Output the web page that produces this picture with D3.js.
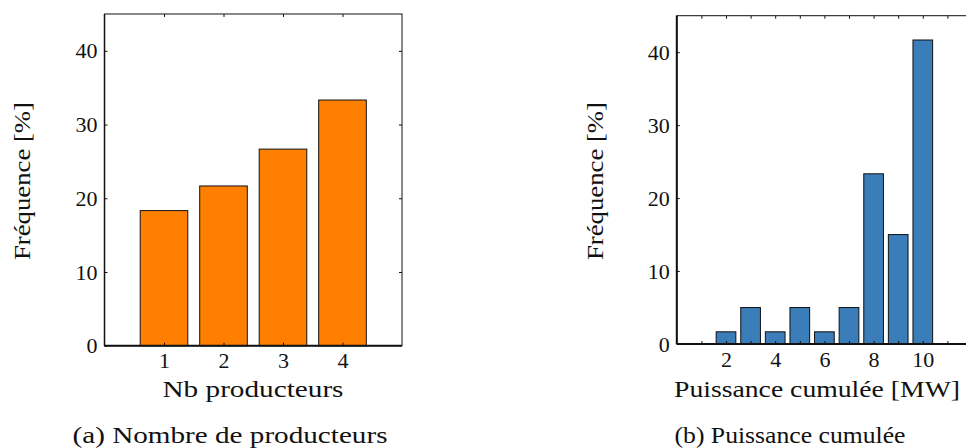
<!DOCTYPE html>
<html><head><meta charset="utf-8">
<script src="https://cdn.jsdelivr.net/npm/d3@7"></script>
<style>body{margin:0;background:#fff}svg{display:block}</style>
</head><body><svg id="c" width="966" height="448"></svg>
<script>
// Data
const prodCategories = [1, 2, 3, 4];
const prodValues = [18.33, 21.67, 26.67, 33.33];
const powerCategories = [2, 3, 4, 5, 6, 7, 8, 9, 10];
const powerValues = [1.67, 5, 1.67, 5, 1.67, 5, 23.33, 15, 41.67];
const yTicks = [0, 10, 20, 30, 40];
const prodXTicks = [1, 2, 3, 4];
const powerXTicks = [1, 2, 3, 4, 5, 6, 7, 8, 9, 10, 11];
const powerXLabels = [2, 4, 6, 8, 10];

const FONT = "'Liberation Serif', 'Times New Roman', Times, serif";
const svg = d3.select("#c");

function panel(o) {
  const x = d3.scaleLinear().domain(o.xDomain).range([o.x0, o.x1]);
  const y = d3.scaleLinear().domain([0, 45]).range([o.y1, o.y0]);
  const g = svg.append("g");
  g.selectAll("rect.bar").data(o.cats).join("rect")
    .attr("class", "bar")
    .attr("x", d => x(d - 0.4))
    .attr("width", d => x(d + 0.4) - x(d - 0.4))
    .attr("y", (d, i) => y(o.vals[i]))
    .attr("height", (d, i) => y(0) - y(o.vals[i]))
    .attr("fill", o.color).attr("stroke", "#111").attr("stroke-width", 1);
  g.append("rect").attr("x", o.x0).attr("y", o.y0).attr("width", o.x1 - o.x0).attr("height", o.y1 - o.y0)
    .attr("fill", "none").attr("stroke", "#111").attr("stroke-width", 1);
  const fmtX = d => (o.xLabels.includes(d) ? d : "");
  const ab = g.append("g").attr("transform", `translate(0,${o.y1})`)
    .call(d3.axisBottom(x).tickValues(o.xTicks).tickSize(-3).tickPadding(9).tickFormat(fmtX));
  const at = g.append("g").attr("transform", `translate(0,${o.y0})`)
    .call(d3.axisTop(x).tickValues(o.xTicks).tickSize(-3).tickFormat(""));
  const al = g.append("g").attr("transform", `translate(${o.x0},0)`)
    .call(d3.axisLeft(y).tickValues(yTicks).tickSize(-3).tickPadding(7));
  const ar = g.append("g").attr("transform", `translate(${o.x1},0)`)
    .call(d3.axisRight(y).tickValues(yTicks.slice(1)).tickSize(-3).tickFormat(""));
  [ab, at, al, ar].forEach(a => {
    a.attr("font-family", FONT);
    a.select(".domain").remove();
    a.selectAll("line").attr("stroke", "#111");
    a.selectAll("text").style("font-family", FONT).style("font-size", "22px").attr("fill", "#111");
  });
  ab.selectAll("text").attr("dy", "0.62em");
  g.append("line").attr("x1", o.x0).attr("x2", o.x1).attr("y1", o.y1).attr("y2", o.y1)
    .attr("stroke", "#111").attr("stroke-width", 2);
  g.append("line").attr("x1", o.x0).attr("x2", o.x0).attr("y1", o.y0).attr("y2", o.y1)
    .attr("stroke", "#111").attr("stroke-width", o.leftW);
  const txt = (sel) => sel.style("font-family", FONT).style("font-size", "23px").attr("fill", "#111")
    .attr("text-anchor", "middle").attr("dominant-baseline", "middle").attr("lengthAdjust", "spacingAndGlyphs");
  svg.append("text").attr("transform", `translate(${o.yTitleX},181) rotate(-90)`)
    .call(txt).attr("textLength", 158).text("Fréquence [%]");
  svg.append("text").attr("x", o.xTitleX).attr("y", 392)
    .call(txt).attr("textLength", o.xTitleW).text(o.xTitle);
  svg.append("text").attr("x", o.capX).attr("y", 438)
    .call(txt).attr("textLength", o.capW).text(o.caption);
}

panel({
  cats: prodCategories, vals: prodValues, color: "#FF8000",
  xDomain: [0, 5], x0: 104.5, x1: 402, y0: 14, y1: 345.7,
  xTicks: prodXTicks, xLabels: prodXTicks, leftW: 1.5,
  yTitleX: 25, xTitle: "Nb producteurs", xTitleX: 253, xTitleW: 181,
  caption: "(a) Nombre de producteurs", capX: 230, capW: 315
});
panel({
  cats: powerCategories, vals: powerValues, color: "#3A7DB8",
  xDomain: [0, 12], x0: 676.8, x1: 972, y0: 15.7, y1: 344,
  xTicks: powerXTicks, xLabels: powerXLabels, leftW: 2,
  yTitleX: 598, xTitle: "Puissance cumulée [MW]", xTitleX: 817, xTitleW: 286,
  caption: "(b) Puissance cumulée", capX: 790, capW: 231
});
</script></body></html>
